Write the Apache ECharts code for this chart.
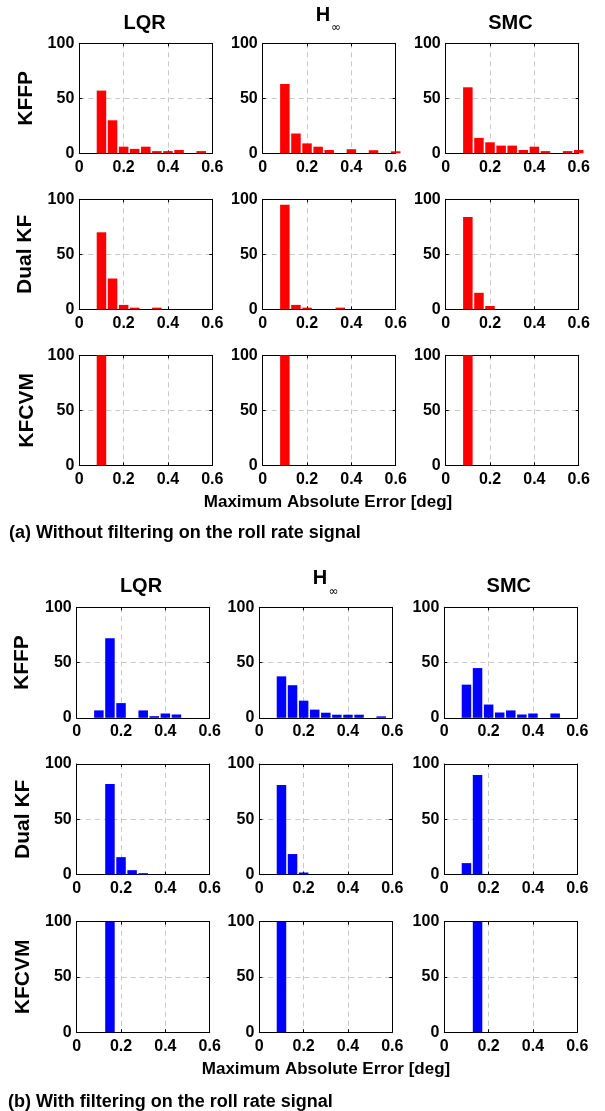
<!DOCTYPE html>
<html><head><meta charset="utf-8">
<script src="https://cdn.jsdelivr.net/npm/echarts@6/dist/echarts.min.js"></script>
<style>html,body{margin:0;padding:0;background:#fff}#c{width:605px;height:1111px}</style>
</head><body><div id="c"></div>
<script>
// Histogram bin centres (Maximum Absolute Error [deg])
const bins = [0.05, 0.10, 0.15, 0.20, 0.25, 0.30, 0.35, 0.40, 0.45, 0.50, 0.55, 0.60];
const controllers = ['LQR', 'H', 'SMC'];     // "H" is drawn with subscript ∞
const estimators = ['KFFP', 'Dual KF', 'KFCVM'];
const xTickLabels = ['0', '0.2', '0.4', '0.6'];
const yTickLabels = ['0', '50', '100'];
const xLabel = 'Maximum Absolute Error [deg]';
const captionA = '(a) Without filtering on the roll rate signal';
const captionB = '(b) With filtering on the roll rate signal';

// (a) Without filtering on the roll rate signal
const a_KFFP_LQR   = [0, 57, 30, 6, 4, 6, 2, 2, 3, 0, 2, 0];
const a_KFFP_Hinf  = [0, 63, 18, 9, 6, 3, 0, 3.7, 0, 2.8, 0, 1.8];
const a_KFFP_SMC   = [0, 60, 14, 10, 7, 7, 3, 6, 2, 0, 2, 3];
const a_DualKF_LQR  = [0, 70, 28, 4, 1.5, 0, 1.5, 0, 0, 0, 0, 0];
const a_DualKF_Hinf = [0, 95, 4, 1.5, 0, 0, 1.5, 0, 0, 0, 0, 0];
const a_DualKF_SMC  = [0, 84, 15, 3, 0, 0, 0, 0, 0, 0, 0, 0];
const a_KFCVM_LQR  = [0, 100, 0, 0, 0, 0, 0, 0, 0, 0, 0, 0];
const a_KFCVM_Hinf = [0, 100, 0, 0, 0, 0, 0, 0, 0, 0, 0, 0];
const a_KFCVM_SMC  = [0, 100, 0, 0, 0, 0, 0, 0, 0, 0, 0, 0];

// (b) With filtering on the roll rate signal
const b_KFFP_LQR   = [0, 6.7, 72, 13.3, 0, 6.7, 1.5, 3.9, 3, 0, 0, 0];
const b_KFFP_Hinf  = [0, 37.5, 29.5, 15.5, 7.4, 4.6, 2.8, 2.8, 2.8, 0, 1.3, 0];
const b_KFFP_SMC   = [0, 30, 45, 12, 4.8, 6.7, 3, 3.9, 0, 3.9, 0, 0];
const b_DualKF_LQR  = [0, 0, 82, 15.7, 3.9, 1.2, 0, 0, 0, 0, 0, 0];
const b_DualKF_Hinf = [0, 81, 18.5, 1.8, 0, 0, 0, 0, 0, 0, 0, 0];
const b_DualKF_SMC  = [0, 10.3, 90, 0, 0, 0, 0, 0, 0, 0, 0, 0];
const b_KFCVM_LQR  = [0, 0, 100, 0, 0, 0, 0, 0, 0, 0, 0, 0];
const b_KFCVM_Hinf = [0, 100, 0, 0, 0, 0, 0, 0, 0, 0, 0, 0];
const b_KFCVM_SMC  = [0, 0, 100, 0, 0, 0, 0, 0, 0, 0, 0, 0];

const partA = [[a_KFFP_LQR, a_KFFP_Hinf, a_KFFP_SMC],
               [a_DualKF_LQR, a_DualKF_Hinf, a_DualKF_SMC],
               [a_KFCVM_LQR, a_KFCVM_Hinf, a_KFCVM_SMC]];
const partB = [[b_KFFP_LQR, b_KFFP_Hinf, b_KFFP_SMC],
               [b_DualKF_LQR, b_DualKF_Hinf, b_DualKF_SMC],
               [b_KFCVM_LQR, b_KFCVM_Hinf, b_KFCVM_SMC]];

// ---------- layout ----------
const FONT = "'Liberation Sans', Arial, Helvetica, sans-serif";
const parts = [
  { data: partA, color: '#ff0000', lefts: [79.3, 262.7, 445.7], tops: [43.3, 199.3, 355.3], w: 133, h: 110,
    titleY: 23, hX: 323, hY: 15.5, infX: 336, infY: 28, titleX: [144.7, 0, 510.5],
    rowX: [26, 25.5, 27], xlabX: 328, xlabY: 502.7, cap: captionA, capY: 533, capX: 9 },
  { data: partB, color: '#0000ff', lefts: [76.7, 259.3, 444.3], tops: [607.3, 764, 921.7], w: 133, h: 110.5,
    titleY: 586, hX: 320, hY: 578, infX: 333.5, infY: 591.5, titleX: [141, 0, 508.8],
    rowX: [22.5, 22.8, 23], xlabX: 326, xlabY: 1069, cap: captionB, capY: 1101.7, capX: 8 }
];

const grids = [], xAxes = [], yAxes = [], series = [], graphics = [];
const labelStyle = { color: '#000', fontFamily: FONT, fontWeight: 'bold', fontSize: 16 };
const splitDash = { show: true, showMinLine: false, showMaxLine: false,
                    lineStyle: { color: '#c8c8c8', type: [5, 4], width: 1 } };
const axisLine = { show: true, onZero: false, lineStyle: { color: '#000', width: 1 } };
const tick = { show: true, inside: true, length: 3, lineStyle: { color: '#000' } };

parts.forEach((p) => {
  for (let r = 0; r < 3; r++) {
    for (let c = 0; c < 3; c++) {
      const gi = grids.length;
      grids.push({ left: p.lefts[c], top: p.tops[r], width: p.w, height: p.h, containLabel: false, show: false });
      const xi = xAxes.length;
      xAxes.push({ type: 'value', gridIndex: gi, position: 'bottom', min: 0, max: 0.6, interval: 0.2,
        axisLine, axisTick: tick, splitLine: splitDash,
        axisLabel: { ...labelStyle, margin: 6, formatter: (v) => xTickLabels[Math.round(v / 0.2)] } });
      xAxes.push({ type: 'value', gridIndex: gi, position: 'top', min: 0, max: 0.6, interval: 0.2,
        axisLine, axisTick: tick, splitLine: { show: false }, axisLabel: { show: false } });
      const yi = yAxes.length;
      yAxes.push({ type: 'value', gridIndex: gi, position: 'left', min: 0, max: 100, interval: 50,
        axisLine, axisTick: tick, splitLine: splitDash,
        axisLabel: { ...labelStyle, margin: 5, formatter: (v) => yTickLabels[Math.round(v / 50)] } });
      yAxes.push({ type: 'value', gridIndex: gi, position: 'right', min: 0, max: 100, interval: 50,
        axisLine, axisTick: tick, splitLine: { show: false }, axisLabel: { show: false } });
      const vals = p.data[r][c];
      series.push({ type: 'bar', xAxisIndex: xi, yAxisIndex: yi, barWidth: 9.5, clip: true,
        itemStyle: { color: p.color },
        data: bins.map((b, i) => [b, vals[i]]).filter(d => d[1] > 0) });
    }
    // row label
    graphics.push({ type: 'text', x: p.rowX[r], y: p.tops[r] + p.h / 2, rotation: Math.PI / 2,
      style: { text: estimators[r], font: `bold 21px ${FONT}`, fill: '#000', align: 'center', verticalAlign: 'middle' } });
  }
  // column titles
  [0, 2].forEach(c => graphics.push({ type: 'text', x: p.titleX[c], y: p.titleY,
    style: { text: controllers[c], font: `bold 20px ${FONT}`, fill: '#000', align: 'center', verticalAlign: 'middle' } }));
  graphics.push({ type: 'text', x: p.hX, y: p.hY,
    style: { text: controllers[1], font: `bold 20px ${FONT}`, fill: '#000', align: 'center', verticalAlign: 'middle' } });
  graphics.push({ type: 'text', x: p.infX, y: p.infY,
    style: { text: '\u221e', font: `12px 'DejaVu Sans', ${FONT}`, fill: '#000', align: 'center', verticalAlign: 'middle' } });
  // x label
  graphics.push({ type: 'text', x: p.xlabX, y: p.xlabY,
    style: { text: xLabel, font: `bold 17px ${FONT}`, fill: '#000', align: 'center', verticalAlign: 'middle' } });
  // caption
  graphics.push({ type: 'text', x: p.capX, y: p.capY,
    style: { text: p.cap, font: `bold 18px ${FONT}`, fill: '#000', align: 'left', verticalAlign: 'middle' } });
});

const chart = echarts.init(document.getElementById('c'), null, { renderer: 'canvas' });
chart.setOption({
  animation: false,
  backgroundColor: '#fff',
  grid: grids, xAxis: xAxes, yAxis: yAxes, series, graphic: graphics
});
</script></body></html>
